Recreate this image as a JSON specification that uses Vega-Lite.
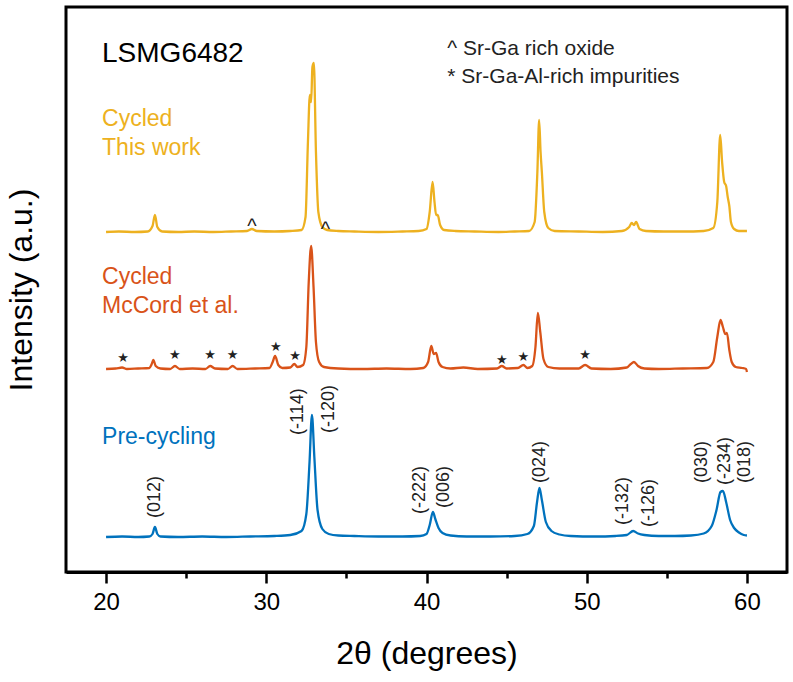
{
  "$schema": "https://vega.github.io/schema/vega-lite/v6.json",
  "width": 721,
  "height": 565,
  "autosize": {"type": "none"},
  "padding": {"left": 66, "top": 7, "right": 6, "bottom": 110},
  "background": "white",
  "config": {
    "font": "Liberation Sans",
    "view": {"stroke": "black", "strokeWidth": 3}
  },
  "datasets": {
    "traces": [
      {"sample": "This work", "two_theta": 20.0, "intensity": 340},
      {"sample": "This work", "two_theta": 20.8, "intensity": 340.5},
      {"sample": "This work", "two_theta": 21.8, "intensity": 340},
      {"sample": "This work", "two_theta": 22.6, "intensity": 340.5},
      {"sample": "This work", "two_theta": 22.9, "intensity": 346},
      {"sample": "This work", "two_theta": 23.05, "intensity": 357},
      {"sample": "This work", "two_theta": 23.2, "intensity": 345},
      {"sample": "This work", "two_theta": 23.5, "intensity": 340.5},
      {"sample": "This work", "two_theta": 24.5, "intensity": 340},
      {"sample": "This work", "two_theta": 25.5, "intensity": 340.5},
      {"sample": "This work", "two_theta": 26.7, "intensity": 340},
      {"sample": "This work", "two_theta": 27.8, "intensity": 340.5},
      {"sample": "This work", "two_theta": 28.8, "intensity": 341},
      {"sample": "This work", "two_theta": 29.1, "intensity": 343},
      {"sample": "This work", "two_theta": 29.4, "intensity": 341},
      {"sample": "This work", "two_theta": 30.5, "intensity": 340.5},
      {"sample": "This work", "two_theta": 31.5, "intensity": 341},
      {"sample": "This work", "two_theta": 32.2, "intensity": 342},
      {"sample": "This work", "two_theta": 32.45, "intensity": 355},
      {"sample": "This work", "two_theta": 32.6, "intensity": 430},
      {"sample": "This work", "two_theta": 32.72, "intensity": 477},
      {"sample": "This work", "two_theta": 32.8, "intensity": 470},
      {"sample": "This work", "two_theta": 32.88, "intensity": 505},
      {"sample": "This work", "two_theta": 32.97, "intensity": 509},
      {"sample": "This work", "two_theta": 33.1, "intensity": 420},
      {"sample": "This work", "two_theta": 33.25, "intensity": 360},
      {"sample": "This work", "two_theta": 33.5, "intensity": 345},
      {"sample": "This work", "two_theta": 33.8, "intensity": 342},
      {"sample": "This work", "two_theta": 34.5, "intensity": 341},
      {"sample": "This work", "two_theta": 35.5, "intensity": 340.5},
      {"sample": "This work", "two_theta": 37.0, "intensity": 340},
      {"sample": "This work", "two_theta": 38.5, "intensity": 340.5},
      {"sample": "This work", "two_theta": 39.5, "intensity": 341},
      {"sample": "This work", "two_theta": 40.0, "intensity": 343},
      {"sample": "This work", "two_theta": 40.2, "intensity": 360},
      {"sample": "This work", "two_theta": 40.38, "intensity": 390},
      {"sample": "This work", "two_theta": 40.5, "intensity": 370},
      {"sample": "This work", "two_theta": 40.6, "intensity": 357},
      {"sample": "This work", "two_theta": 40.7, "intensity": 357},
      {"sample": "This work", "two_theta": 40.85, "intensity": 347},
      {"sample": "This work", "two_theta": 41.1, "intensity": 342},
      {"sample": "This work", "two_theta": 41.8, "intensity": 341},
      {"sample": "This work", "two_theta": 43.0, "intensity": 340.5},
      {"sample": "This work", "two_theta": 44.5, "intensity": 340},
      {"sample": "This work", "two_theta": 45.5, "intensity": 340.5},
      {"sample": "This work", "two_theta": 46.4, "intensity": 341},
      {"sample": "This work", "two_theta": 46.75, "intensity": 350},
      {"sample": "This work", "two_theta": 46.92, "intensity": 400},
      {"sample": "This work", "two_theta": 47.03, "intensity": 452},
      {"sample": "This work", "two_theta": 47.12, "intensity": 420},
      {"sample": "This work", "two_theta": 47.2, "intensity": 400},
      {"sample": "This work", "two_theta": 47.35, "intensity": 360},
      {"sample": "This work", "two_theta": 47.6, "intensity": 344},
      {"sample": "This work", "two_theta": 48.0, "intensity": 341},
      {"sample": "This work", "two_theta": 49.5, "intensity": 340.5},
      {"sample": "This work", "two_theta": 51.0, "intensity": 340},
      {"sample": "This work", "two_theta": 52.2, "intensity": 341},
      {"sample": "This work", "two_theta": 52.65, "intensity": 345},
      {"sample": "This work", "two_theta": 52.8, "intensity": 349},
      {"sample": "This work", "two_theta": 52.95, "intensity": 347},
      {"sample": "This work", "two_theta": 53.08, "intensity": 350},
      {"sample": "This work", "two_theta": 53.3, "intensity": 343},
      {"sample": "This work", "two_theta": 53.7, "intensity": 341},
      {"sample": "This work", "two_theta": 54.8, "intensity": 340.5},
      {"sample": "This work", "two_theta": 56.0, "intensity": 340.5},
      {"sample": "This work", "two_theta": 57.3, "intensity": 341},
      {"sample": "This work", "two_theta": 57.9, "intensity": 344},
      {"sample": "This work", "two_theta": 58.15, "intensity": 370},
      {"sample": "This work", "two_theta": 58.33, "intensity": 437},
      {"sample": "This work", "two_theta": 58.45, "intensity": 410},
      {"sample": "This work", "two_theta": 58.58, "intensity": 390},
      {"sample": "This work", "two_theta": 58.7, "intensity": 386},
      {"sample": "This work", "two_theta": 58.8, "intensity": 375},
      {"sample": "This work", "two_theta": 58.9, "intensity": 366},
      {"sample": "This work", "two_theta": 59.0, "intensity": 350},
      {"sample": "This work", "two_theta": 59.2, "intensity": 343},
      {"sample": "This work", "two_theta": 59.5, "intensity": 341},
      {"sample": "This work", "two_theta": 60.0, "intensity": 341},
      {"sample": "McCord et al.", "two_theta": 20.0, "intensity": 203},
      {"sample": "McCord et al.", "two_theta": 20.6, "intensity": 203.5},
      {"sample": "McCord et al.", "two_theta": 21.0, "intensity": 204.5},
      {"sample": "McCord et al.", "two_theta": 21.3, "intensity": 203},
      {"sample": "McCord et al.", "two_theta": 22.0, "intensity": 203.5},
      {"sample": "McCord et al.", "two_theta": 22.7, "intensity": 204},
      {"sample": "McCord et al.", "two_theta": 22.85, "intensity": 208},
      {"sample": "McCord et al.", "two_theta": 22.95, "intensity": 212},
      {"sample": "McCord et al.", "two_theta": 23.1, "intensity": 206},
      {"sample": "McCord et al.", "two_theta": 23.4, "intensity": 203.5},
      {"sample": "McCord et al.", "two_theta": 24.0, "intensity": 203},
      {"sample": "McCord et al.", "two_theta": 24.3, "intensity": 206},
      {"sample": "McCord et al.", "two_theta": 24.6, "intensity": 203},
      {"sample": "McCord et al.", "two_theta": 25.4, "intensity": 203.5},
      {"sample": "McCord et al.", "two_theta": 26.2, "intensity": 203},
      {"sample": "McCord et al.", "two_theta": 26.5, "intensity": 206},
      {"sample": "McCord et al.", "two_theta": 26.8, "intensity": 203.5},
      {"sample": "McCord et al.", "two_theta": 27.6, "intensity": 203},
      {"sample": "McCord et al.", "two_theta": 27.9, "intensity": 206},
      {"sample": "McCord et al.", "two_theta": 28.2, "intensity": 203},
      {"sample": "McCord et al.", "two_theta": 29.3, "intensity": 203.5},
      {"sample": "McCord et al.", "two_theta": 30.2, "intensity": 204},
      {"sample": "McCord et al.", "two_theta": 30.4, "intensity": 210},
      {"sample": "McCord et al.", "two_theta": 30.55, "intensity": 216},
      {"sample": "McCord et al.", "two_theta": 30.75, "intensity": 207},
      {"sample": "McCord et al.", "two_theta": 31.0, "intensity": 204},
      {"sample": "McCord et al.", "two_theta": 31.5, "intensity": 204.5},
      {"sample": "McCord et al.", "two_theta": 31.75, "intensity": 208},
      {"sample": "McCord et al.", "two_theta": 31.95, "intensity": 205},
      {"sample": "McCord et al.", "two_theta": 32.3, "intensity": 207},
      {"sample": "McCord et al.", "two_theta": 32.5, "intensity": 225},
      {"sample": "McCord et al.", "two_theta": 32.65, "intensity": 290},
      {"sample": "McCord et al.", "two_theta": 32.8, "intensity": 326},
      {"sample": "McCord et al.", "two_theta": 32.95, "intensity": 285},
      {"sample": "McCord et al.", "two_theta": 33.1, "intensity": 230},
      {"sample": "McCord et al.", "two_theta": 33.3, "intensity": 210},
      {"sample": "McCord et al.", "two_theta": 33.6, "intensity": 205},
      {"sample": "McCord et al.", "two_theta": 34.5, "intensity": 203.5},
      {"sample": "McCord et al.", "two_theta": 36.0, "intensity": 203},
      {"sample": "McCord et al.", "two_theta": 37.5, "intensity": 203.5},
      {"sample": "McCord et al.", "two_theta": 39.0, "intensity": 203},
      {"sample": "McCord et al.", "two_theta": 39.8, "intensity": 204},
      {"sample": "McCord et al.", "two_theta": 40.1, "intensity": 210},
      {"sample": "McCord et al.", "two_theta": 40.3, "intensity": 226},
      {"sample": "McCord et al.", "two_theta": 40.45, "intensity": 218},
      {"sample": "McCord et al.", "two_theta": 40.6, "intensity": 219},
      {"sample": "McCord et al.", "two_theta": 40.75, "intensity": 210},
      {"sample": "McCord et al.", "two_theta": 41.0, "intensity": 205},
      {"sample": "McCord et al.", "two_theta": 41.5, "intensity": 203.5},
      {"sample": "McCord et al.", "two_theta": 42.3, "intensity": 204.5},
      {"sample": "McCord et al.", "two_theta": 43.2, "intensity": 203},
      {"sample": "McCord et al.", "two_theta": 44.4, "intensity": 203.5},
      {"sample": "McCord et al.", "two_theta": 44.7, "intensity": 206},
      {"sample": "McCord et al.", "two_theta": 45.0, "intensity": 203.5},
      {"sample": "McCord et al.", "two_theta": 45.7, "intensity": 204},
      {"sample": "McCord et al.", "two_theta": 46.05, "intensity": 207},
      {"sample": "McCord et al.", "two_theta": 46.3, "intensity": 204},
      {"sample": "McCord et al.", "two_theta": 46.6, "intensity": 206},
      {"sample": "McCord et al.", "two_theta": 46.8, "intensity": 225},
      {"sample": "McCord et al.", "two_theta": 46.95, "intensity": 259},
      {"sample": "McCord et al.", "two_theta": 47.1, "intensity": 240},
      {"sample": "McCord et al.", "two_theta": 47.3, "intensity": 213},
      {"sample": "McCord et al.", "two_theta": 47.6, "intensity": 205},
      {"sample": "McCord et al.", "two_theta": 48.3, "intensity": 203.5},
      {"sample": "McCord et al.", "two_theta": 49.5, "intensity": 203.5},
      {"sample": "McCord et al.", "two_theta": 49.9, "intensity": 207},
      {"sample": "McCord et al.", "two_theta": 50.3, "intensity": 203.5},
      {"sample": "McCord et al.", "two_theta": 51.5, "intensity": 203},
      {"sample": "McCord et al.", "two_theta": 52.5, "intensity": 204.5},
      {"sample": "McCord et al.", "two_theta": 52.75, "intensity": 208},
      {"sample": "McCord et al.", "two_theta": 52.95, "intensity": 210},
      {"sample": "McCord et al.", "two_theta": 53.2, "intensity": 206},
      {"sample": "McCord et al.", "two_theta": 53.6, "intensity": 203.5},
      {"sample": "McCord et al.", "two_theta": 54.5, "intensity": 203},
      {"sample": "McCord et al.", "two_theta": 56.0, "intensity": 203.5},
      {"sample": "McCord et al.", "two_theta": 57.5, "intensity": 204},
      {"sample": "McCord et al.", "two_theta": 57.9, "intensity": 210},
      {"sample": "McCord et al.", "two_theta": 58.15, "intensity": 235},
      {"sample": "McCord et al.", "two_theta": 58.35, "intensity": 252},
      {"sample": "McCord et al.", "two_theta": 58.5, "intensity": 245},
      {"sample": "McCord et al.", "two_theta": 58.65, "intensity": 238},
      {"sample": "McCord et al.", "two_theta": 58.75, "intensity": 239},
      {"sample": "McCord et al.", "two_theta": 58.9, "intensity": 222},
      {"sample": "McCord et al.", "two_theta": 59.05, "intensity": 210},
      {"sample": "McCord et al.", "two_theta": 59.3, "intensity": 205},
      {"sample": "McCord et al.", "two_theta": 59.7, "intensity": 204},
      {"sample": "McCord et al.", "two_theta": 59.95, "intensity": 203},
      {"sample": "McCord et al.", "two_theta": 60.0, "intensity": 200},
      {"sample": "Pre-cycling", "two_theta": 20.0, "intensity": 35},
      {"sample": "Pre-cycling", "two_theta": 21.0, "intensity": 35.5},
      {"sample": "Pre-cycling", "two_theta": 22.0, "intensity": 35},
      {"sample": "Pre-cycling", "two_theta": 22.7, "intensity": 35.5},
      {"sample": "Pre-cycling", "two_theta": 22.9, "intensity": 38},
      {"sample": "Pre-cycling", "two_theta": 23.05, "intensity": 45},
      {"sample": "Pre-cycling", "two_theta": 23.2, "intensity": 38},
      {"sample": "Pre-cycling", "two_theta": 23.4, "intensity": 35.5},
      {"sample": "Pre-cycling", "two_theta": 24.5, "intensity": 35},
      {"sample": "Pre-cycling", "two_theta": 26.0, "intensity": 35.5},
      {"sample": "Pre-cycling", "two_theta": 27.5, "intensity": 35},
      {"sample": "Pre-cycling", "two_theta": 29.0, "intensity": 35.5},
      {"sample": "Pre-cycling", "two_theta": 30.5, "intensity": 36},
      {"sample": "Pre-cycling", "two_theta": 31.5, "intensity": 37},
      {"sample": "Pre-cycling", "two_theta": 32.2, "intensity": 41},
      {"sample": "Pre-cycling", "two_theta": 32.5, "intensity": 58},
      {"sample": "Pre-cycling", "two_theta": 32.7, "intensity": 110},
      {"sample": "Pre-cycling", "two_theta": 32.85, "intensity": 157},
      {"sample": "Pre-cycling", "two_theta": 33.0, "intensity": 115},
      {"sample": "Pre-cycling", "two_theta": 33.2, "intensity": 62},
      {"sample": "Pre-cycling", "two_theta": 33.5, "intensity": 43},
      {"sample": "Pre-cycling", "two_theta": 33.9, "intensity": 38},
      {"sample": "Pre-cycling", "two_theta": 34.5, "intensity": 36.5},
      {"sample": "Pre-cycling", "two_theta": 35.5, "intensity": 36},
      {"sample": "Pre-cycling", "two_theta": 37.0, "intensity": 35.5},
      {"sample": "Pre-cycling", "two_theta": 38.5, "intensity": 35.5},
      {"sample": "Pre-cycling", "two_theta": 39.6, "intensity": 36},
      {"sample": "Pre-cycling", "two_theta": 40.0, "intensity": 38},
      {"sample": "Pre-cycling", "two_theta": 40.2, "intensity": 47},
      {"sample": "Pre-cycling", "two_theta": 40.4, "intensity": 60},
      {"sample": "Pre-cycling", "two_theta": 40.55, "intensity": 53},
      {"sample": "Pre-cycling", "two_theta": 40.75, "intensity": 44},
      {"sample": "Pre-cycling", "two_theta": 41.0, "intensity": 39},
      {"sample": "Pre-cycling", "two_theta": 41.5, "intensity": 36.5},
      {"sample": "Pre-cycling", "two_theta": 42.5, "intensity": 35.5},
      {"sample": "Pre-cycling", "two_theta": 44.0, "intensity": 35.5},
      {"sample": "Pre-cycling", "two_theta": 45.5, "intensity": 36},
      {"sample": "Pre-cycling", "two_theta": 46.3, "intensity": 38},
      {"sample": "Pre-cycling", "two_theta": 46.7, "intensity": 46},
      {"sample": "Pre-cycling", "two_theta": 46.9, "intensity": 70},
      {"sample": "Pre-cycling", "two_theta": 47.05, "intensity": 84},
      {"sample": "Pre-cycling", "two_theta": 47.2, "intensity": 72},
      {"sample": "Pre-cycling", "two_theta": 47.45, "intensity": 50},
      {"sample": "Pre-cycling", "two_theta": 47.8, "intensity": 41},
      {"sample": "Pre-cycling", "two_theta": 48.3, "intensity": 37.5},
      {"sample": "Pre-cycling", "two_theta": 49.0, "intensity": 36},
      {"sample": "Pre-cycling", "two_theta": 50.5, "intensity": 35.5},
      {"sample": "Pre-cycling", "two_theta": 51.8, "intensity": 36},
      {"sample": "Pre-cycling", "two_theta": 52.5, "intensity": 37},
      {"sample": "Pre-cycling", "two_theta": 52.9, "intensity": 41},
      {"sample": "Pre-cycling", "two_theta": 53.2, "intensity": 38.5},
      {"sample": "Pre-cycling", "two_theta": 53.6, "intensity": 37},
      {"sample": "Pre-cycling", "two_theta": 54.5, "intensity": 36},
      {"sample": "Pre-cycling", "two_theta": 55.5, "intensity": 36},
      {"sample": "Pre-cycling", "two_theta": 56.5, "intensity": 36.5},
      {"sample": "Pre-cycling", "two_theta": 57.3, "intensity": 38.5},
      {"sample": "Pre-cycling", "two_theta": 57.8, "intensity": 46},
      {"sample": "Pre-cycling", "two_theta": 58.1, "intensity": 62},
      {"sample": "Pre-cycling", "two_theta": 58.35, "intensity": 80},
      {"sample": "Pre-cycling", "two_theta": 58.5, "intensity": 81},
      {"sample": "Pre-cycling", "two_theta": 58.7, "intensity": 70},
      {"sample": "Pre-cycling", "two_theta": 58.95, "intensity": 52},
      {"sample": "Pre-cycling", "two_theta": 59.2, "intensity": 44},
      {"sample": "Pre-cycling", "two_theta": 59.5, "intensity": 39.5},
      {"sample": "Pre-cycling", "two_theta": 59.8, "intensity": 37},
      {"sample": "Pre-cycling", "two_theta": 60.0, "intensity": 36.5}
    ],
    "sampleLabels": [
      {"sample": "This work", "text": "Cycled", "two_theta": 19.75, "intensity": 446},
      {"sample": "This work", "text": "This work", "two_theta": 19.75, "intensity": 417},
      {"sample": "McCord et al.", "text": "Cycled", "two_theta": 19.75, "intensity": 288},
      {"sample": "McCord et al.", "text": "McCord et al.", "two_theta": 19.75, "intensity": 259},
      {"sample": "Pre-cycling", "text": "Pre-cycling", "two_theta": 19.75, "intensity": 128}
    ],
    "hkl": [
      {"text": "(012)", "two_theta": 23.06, "intensity": 54},
      {"text": "(-114)", "two_theta": 32.0, "intensity": 137},
      {"text": "(-120)", "two_theta": 33.9, "intensity": 139},
      {"text": "(-222)", "two_theta": 39.6, "intensity": 58},
      {"text": "(006)", "two_theta": 41.1, "intensity": 64},
      {"text": "(024)", "two_theta": 47.1, "intensity": 89},
      {"text": "(-132)", "two_theta": 52.25, "intensity": 47},
      {"text": "(-126)", "two_theta": 53.9, "intensity": 45},
      {"text": "(030)", "two_theta": 57.2, "intensity": 89},
      {"text": "(-234)", "two_theta": 58.6, "intensity": 87},
      {"text": "(018)", "two_theta": 59.9, "intensity": 89}
    ],
    "marks": [
      {"text": "★", "two_theta": 21.06, "intensity": 214},
      {"text": "★", "two_theta": 24.3, "intensity": 217},
      {"text": "★", "two_theta": 26.5, "intensity": 217},
      {"text": "★", "two_theta": 27.9, "intensity": 217},
      {"text": "★", "two_theta": 30.6, "intensity": 225},
      {"text": "★", "two_theta": 31.8, "intensity": 216},
      {"text": "★", "two_theta": 44.7, "intensity": 212},
      {"text": "★", "two_theta": 46.05, "intensity": 215},
      {"text": "★", "two_theta": 49.9, "intensity": 217}
    ],
    "carets": [
      {"text": "^", "two_theta": 29.1, "intensity": 339.5},
      {"text": "^", "two_theta": 33.7, "intensity": 336.5}
    ],
    "notes": [
      {"text": "^ Sr-Ga rich oxide", "two_theta": 41.3, "intensity": 517},
      {"text": "* Sr-Ga-Al-rich impurities", "two_theta": 41.3, "intensity": 489}
    ],
    "heading": [
      {"text": "LSMG6482", "two_theta": 19.75, "intensity": 510}
    ]
  },
  "layer": [
    {
      "data": {"name": "traces"},
      "mark": {"type": "line", "strokeWidth": 2.3, "interpolate": "monotone"},
      "encoding": {
        "x": {
          "field": "two_theta",
          "type": "quantitative",
          "scale": {"domain": [17.5, 62.5], "nice": false, "zero": false},
          "axis": {
            "title": "2θ (degrees)",
            "values": [20, 25, 30, 35, 40, 45, 50, 55, 60],
            "labelExpr": "datum.value % 10 === 0 ? datum.label : ''",
            "tickSize": {"condition": {"test": "datum.value % 10 === 0", "value": 11}, "value": 6},
            "tickWidth": 2.5,
            "tickColor": "black",
            "domainColor": "black",
            "domainWidth": 3,
            "grid": false,
            "labelFontSize": 24,
            "labelColor": "black",
            "labelPadding": 7,
            "titleFontSize": 32,
            "titleFontWeight": "normal",
            "titleColor": "black",
            "titlePadding": 24
          }
        },
        "y": {
          "field": "intensity",
          "type": "quantitative",
          "scale": {"domain": [0, 565], "nice": false, "zero": false},
          "axis": {
            "title": "Intensity (a.u.)",
            "ticks": false,
            "labels": false,
            "domain": false,
            "grid": false,
            "titleFontSize": 32,
            "titleFontWeight": "normal",
            "titleColor": "black",
            "titlePadding": 28
          }
        },
        "color": {
          "field": "sample",
          "type": "nominal",
          "scale": {"domain": ["This work", "McCord et al.", "Pre-cycling"], "range": ["#EDB120", "#D95319", "#0072BD"]},
          "legend": null
        }
      }
    },
    {
      "data": {"name": "sampleLabels"},
      "mark": {"type": "text", "align": "left", "baseline": "alphabetic", "fontSize": 23},
      "encoding": {
        "x": {"field": "two_theta", "type": "quantitative"},
        "y": {"field": "intensity", "type": "quantitative"},
        "text": {"field": "text"},
        "color": {"field": "sample", "type": "nominal", "legend": null}
      }
    },
    {
      "data": {"name": "hkl"},
      "mark": {"type": "text", "angle": 270, "align": "left", "baseline": "middle", "fontSize": 18, "color": "#222222"},
      "encoding": {
        "x": {"field": "two_theta", "type": "quantitative"},
        "y": {"field": "intensity", "type": "quantitative"},
        "text": {"field": "text"}
      }
    },
    {
      "data": {"name": "marks"},
      "mark": {"type": "text", "align": "center", "baseline": "middle", "fontSize": 13, "font": "DejaVu Sans", "color": "#222222"},
      "encoding": {
        "x": {"field": "two_theta", "type": "quantitative"},
        "y": {"field": "intensity", "type": "quantitative"},
        "text": {"field": "text"}
      }
    },
    {
      "data": {"name": "carets"},
      "mark": {"type": "text", "align": "center", "baseline": "alphabetic", "fontSize": 20, "color": "#222222"},
      "encoding": {
        "x": {"field": "two_theta", "type": "quantitative"},
        "y": {"field": "intensity", "type": "quantitative"},
        "text": {"field": "text"}
      }
    },
    {
      "data": {"name": "notes"},
      "mark": {"type": "text", "align": "left", "baseline": "alphabetic", "fontSize": 21, "color": "#222222"},
      "encoding": {
        "x": {"field": "two_theta", "type": "quantitative"},
        "y": {"field": "intensity", "type": "quantitative"},
        "text": {"field": "text"}
      }
    },
    {
      "data": {"name": "heading"},
      "mark": {"type": "text", "align": "left", "baseline": "alphabetic", "fontSize": 28, "color": "black"},
      "encoding": {
        "x": {"field": "two_theta", "type": "quantitative"},
        "y": {"field": "intensity", "type": "quantitative"},
        "text": {"field": "text"}
      }
    }
  ]
}
